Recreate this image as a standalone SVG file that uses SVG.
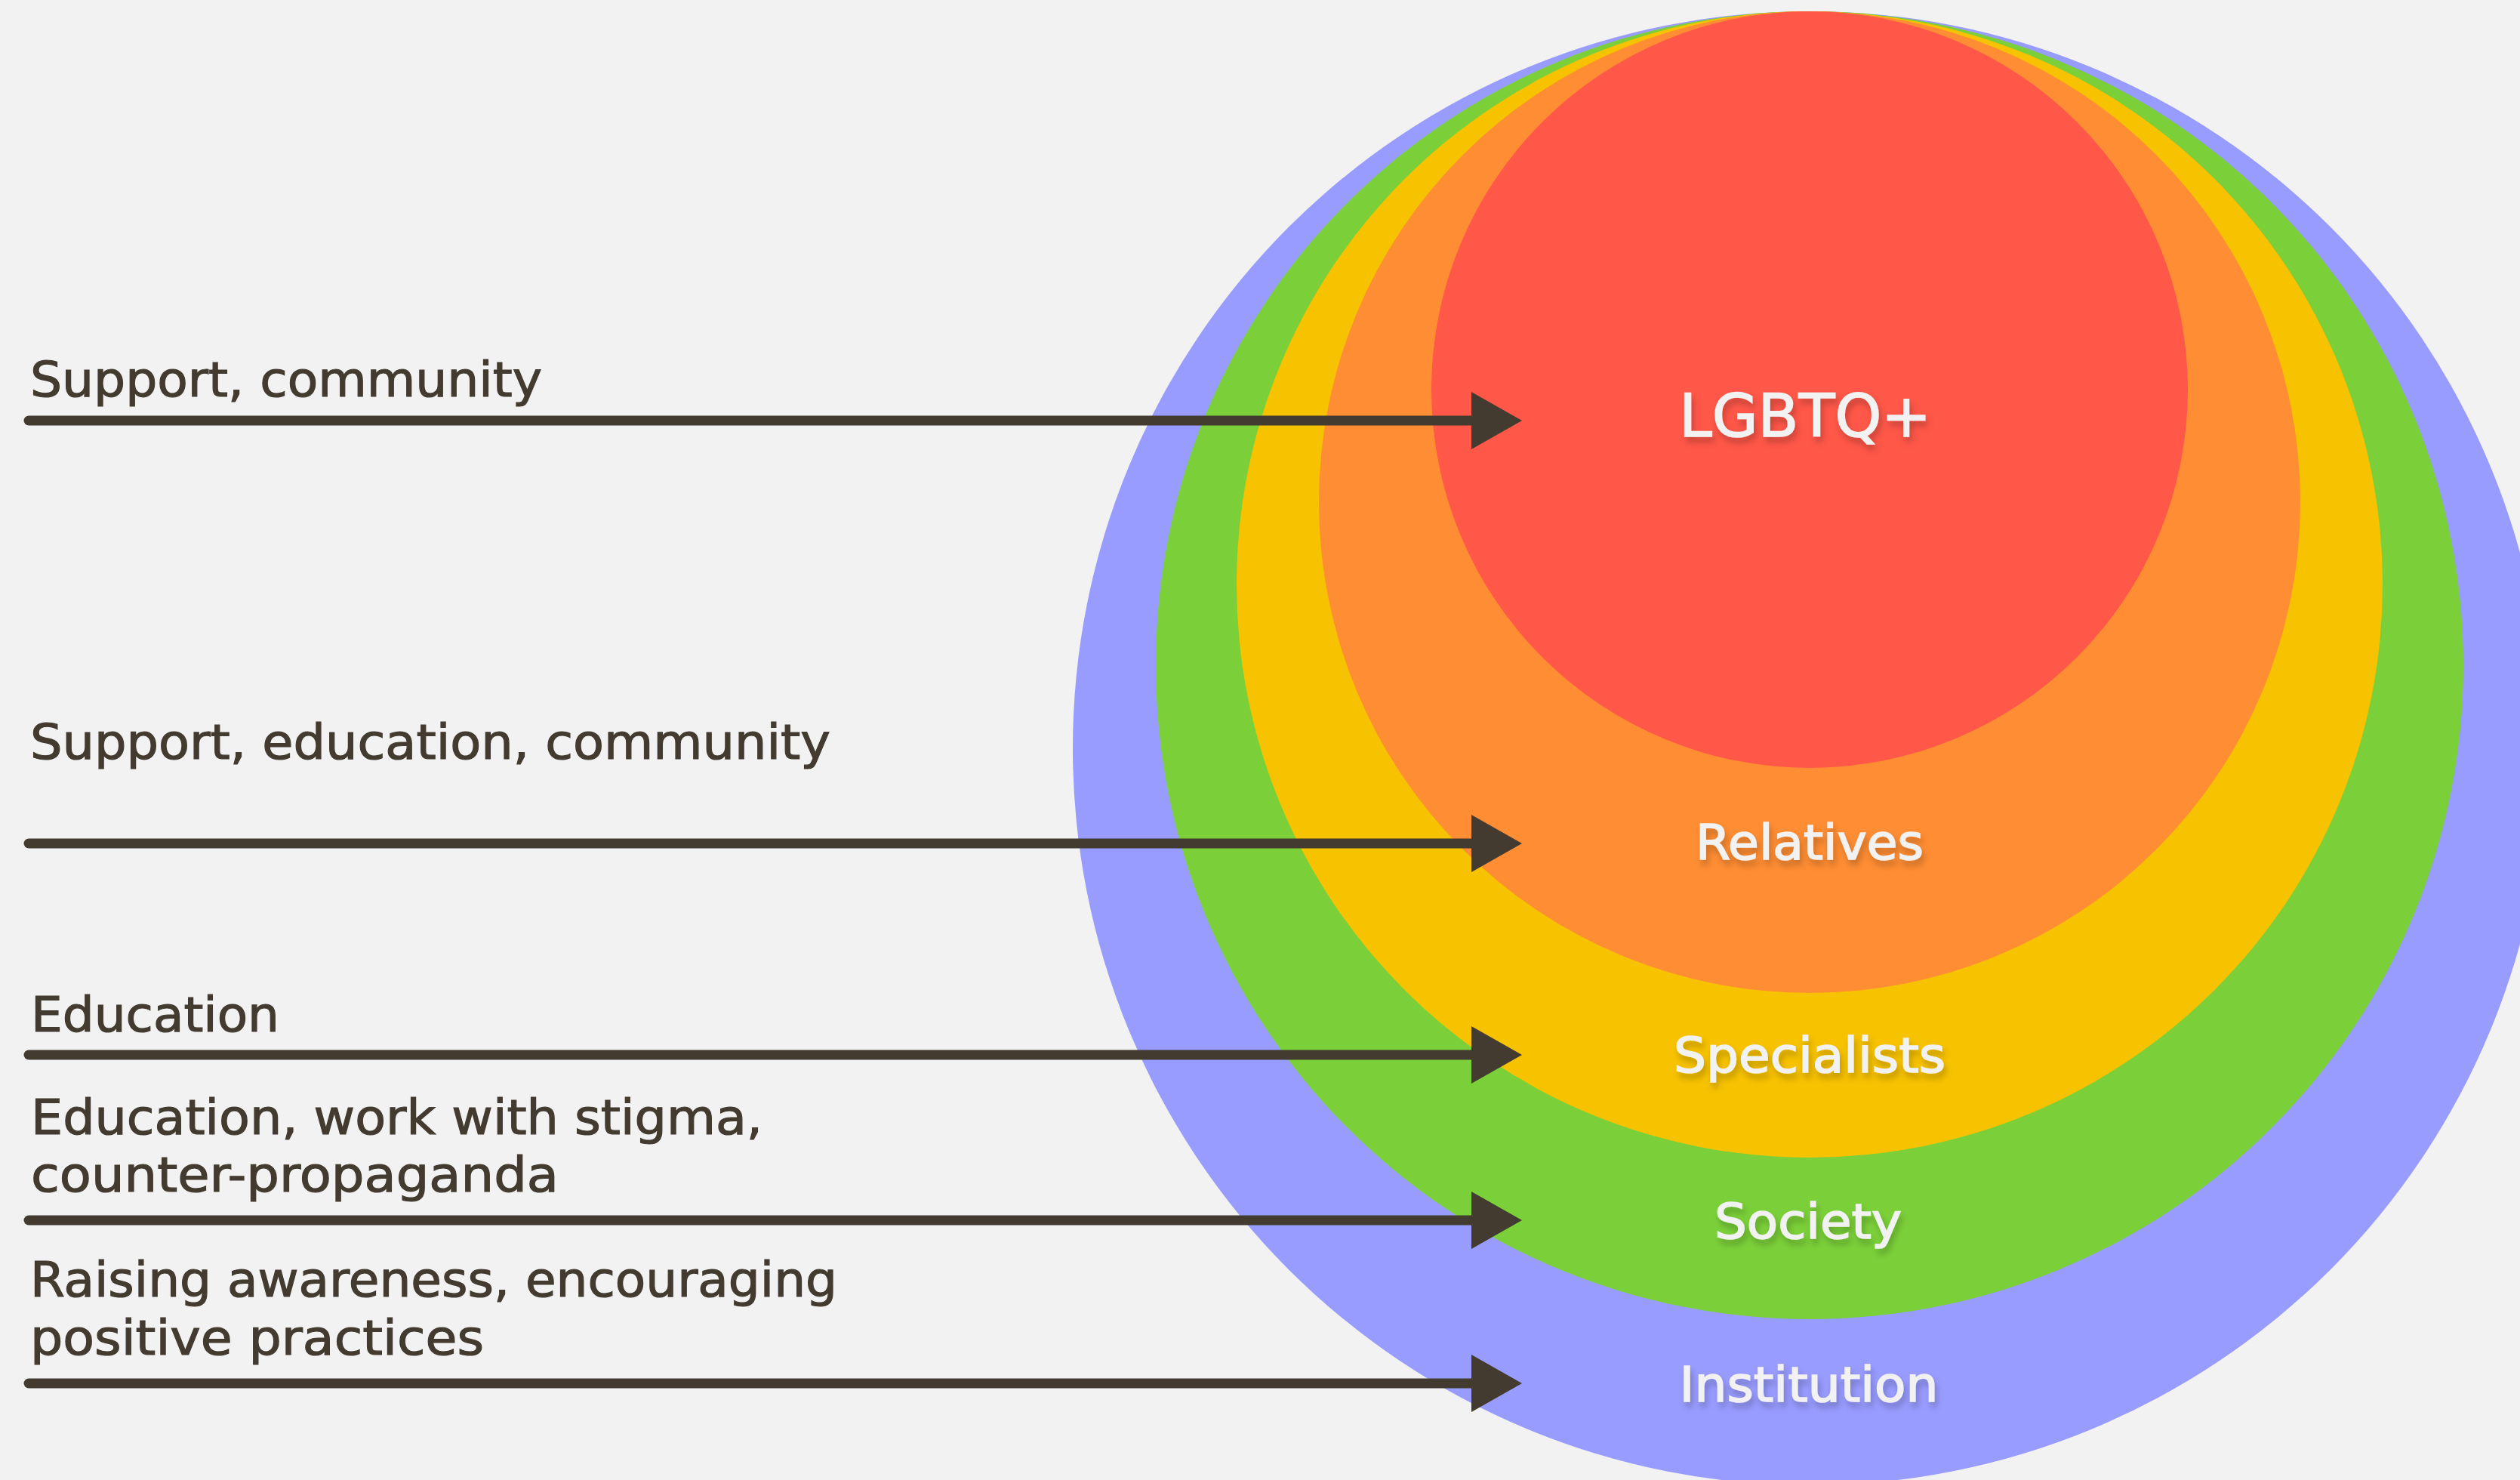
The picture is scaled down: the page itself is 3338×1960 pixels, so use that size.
<svg xmlns="http://www.w3.org/2000/svg" width="3338" height="1960" viewBox="0 0 3338 1960">
  <defs>
    <style>
      .note { font-family: "DejaVu Sans", "Liberation Sans", sans-serif; font-size: 64px; fill: #433b30; stroke: #433b30; stroke-width: 1.2px; }
      .lbl { font-family: "DejaVu Sans", "Liberation Sans", sans-serif; font-size: 64px; fill: #f2f2f2; stroke: #f2f2f2; stroke-width: 1.6px; text-anchor: middle; filter: url(#shadow); }
      .big { font-size: 78px; }
      .conn { stroke: #433b30; stroke-width: 13; stroke-linecap: round; fill: none; marker-end: url(#head); }
    </style>
    <filter id="shadow" x="-20%" y="-50%" width="140%" height="200%">
      <feDropShadow dx="3" dy="7" stdDeviation="4" flood-color="#000000" flood-opacity="0.22"/>
    </filter>
    <marker id="head" viewBox="0 0 67 76" refX="1" refY="38" markerWidth="67" markerHeight="76" markerUnits="userSpaceOnUse" orient="auto">
      <path d="M0,0 L67,38 L0,76 Z" fill="#433b30"/>
    </marker>
  </defs>
  <rect x="0" y="0" width="3338" height="1960" fill="#f2f2f2"/>

  <g id="institution">
    <circle cx="2397" cy="991" r="976" fill="#999cff"/>
    <text class="lbl" x="2396" y="1856" textLength="343" lengthAdjust="spacingAndGlyphs">Institution</text>
  </g>
  <g id="society">
    <circle cx="2397" cy="881" r="866" fill="#7bd039"/>
    <text class="lbl" x="2395" y="1640" textLength="248" lengthAdjust="spacingAndGlyphs">Society</text>
  </g>
  <g id="specialists">
    <circle cx="2397" cy="774" r="759" fill="#f7c200"/>
    <text class="lbl" x="2397" y="1420" textLength="360" lengthAdjust="spacingAndGlyphs">Specialists</text>
  </g>
  <g id="relatives">
    <circle cx="2397" cy="665" r="650" fill="#ff8d33"/>
    <text class="lbl" x="2397" y="1138" textLength="302" lengthAdjust="spacingAndGlyphs">Relatives</text>
  </g>
  <g id="lgbtq">
    <circle cx="2397" cy="516" r="501" fill="#ff5748"/>
    <text class="lbl big" x="2391" y="578" textLength="334" lengthAdjust="spacingAndGlyphs">LGBTQ+</text>
  </g>

  <g id="connectors">
    <line class="conn" x1="38" y1="557" x2="1950" y2="557"/>
    <line class="conn" x1="38" y1="1117" x2="1950" y2="1117"/>
    <line class="conn" x1="38" y1="1397" x2="1950" y2="1397"/>
    <line class="conn" x1="38" y1="1616" x2="1950" y2="1616"/>
    <line class="conn" x1="38" y1="1832" x2="1950" y2="1832"/>
  </g>

  <g id="notes">
    <text class="note" x="40" y="525" textLength="678" lengthAdjust="spacingAndGlyphs">Support, community</text>
    <text class="note" x="40" y="1005" textLength="1060" lengthAdjust="spacingAndGlyphs">Support, education, community</text>
    <text class="note" x="41" y="1366" textLength="329" lengthAdjust="spacingAndGlyphs">Education</text>
    <text class="note" x="41" y="1502" textLength="969" lengthAdjust="spacingAndGlyphs">Education, work with stigma,</text>
    <text class="note" x="41" y="1578" textLength="699" lengthAdjust="spacingAndGlyphs">counter-propaganda</text>
    <text class="note" x="40" y="1717" textLength="1069" lengthAdjust="spacingAndGlyphs">Raising awareness, encouraging</text>
    <text class="note" x="40" y="1794" textLength="601" lengthAdjust="spacingAndGlyphs">positive practices</text>
  </g>
</svg>
